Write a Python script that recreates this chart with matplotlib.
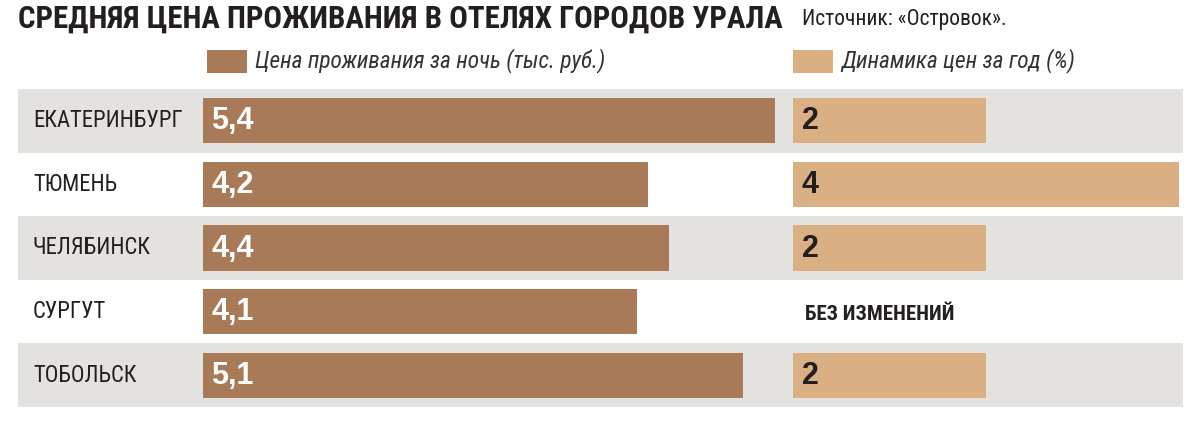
import matplotlib
matplotlib.use('Agg')
import matplotlib.pyplot as plt
from matplotlib import font_manager
from matplotlib.patches import Rectangle
import matplotlib.transforms as mtransforms

# ── данные ────────────────────────────────────────────────────────────────
TITLE = 'СРЕДНЯЯ ЦЕНА ПРОЖИВАНИЯ В ОТЕЛЯХ ГОРОДОВ УРАЛА'
SOURCE = 'Источник: «Островок».'
LEGEND_PRICE = 'Цена проживания за ночь (тыс. руб.)'
LEGEND_CHANGE = 'Динамика цен за год (%)'

cities = ['ЕКАТЕРИНБУРГ', 'ТЮМЕНЬ', 'ЧЕЛЯБИНСК', 'СУРГУТ', 'ТОБОЛЬСК']
price = [5.4, 4.2, 4.4, 4.1, 5.1]
price_labels = ['5,4', '4,2', '4,4', '4,1', '5,1']
change = [2, 4, 2, 0, 2]
change_labels = ['2', '4', '2', 'БЕЗ ИЗМЕНЕНИЙ', '2']

# ── стиль ─────────────────────────────────────────────────────────────────
C_PRICE = '#A97A57'
C_CHANGE = '#D9AF83'
C_BAND = '#E3E2DE'
C_TEXT = '#231F20'

installed = {f.name for f in font_manager.fontManager.ttflist}
FONT = next((f for f in ['Roboto Condensed', 'Liberation Sans Narrow', 'Liberation Sans']
             if f in installed), 'DejaVu Sans')
NUM_FONT = ['Liberation Sans', 'DejaVu Sans']
plt.rcParams['font.family'] = [FONT, 'DejaVu Sans']

W, H = 1200, 424
fig = plt.figure(figsize=(W / 100, H / 100), dpi=100)


def fx(px):
    return px / W


def fy(py):
    return 1 - py / H


n = len(cities)
top_px, bot_px = 89, 407
ax_b = fy(bot_px)
ax_h = (bot_px - top_px) / H

# фон: полосы через строку
bg = fig.add_axes([fx(18), ax_b, fx(1183 - 18), ax_h])
bg.set_xlim(0, 1)
bg.set_ylim(n - 0.5, -0.5)
for i in range(n):
    if i % 2 == 0:
        bg.axhspan(i - 0.5, i + 0.5, color=C_BAND, lw=0)
bg.axis('off')

# левые столбцы — цена
ax1 = fig.add_axes([fx(203), ax_b, fx(775 - 203), ax_h])
ax1.barh(range(n), price, height=0.71, color=C_PRICE)
ax1.set_xlim(0, max(price))
ax1.set_ylim(n - 0.5, -0.5)
ax1.axis('off')
for i, lab in enumerate(price_labels):
    ax1.text(0.08, i + 0.01, lab, ha='left', va='center', color='white',
             fontsize=22, fontweight='bold', family=NUM_FONT)

# правые столбцы — динамика
ax2 = fig.add_axes([fx(793), ax_b, fx(1179 - 793), ax_h])
ax2.barh(range(n), change, height=0.71, color=C_CHANGE)
ax2.set_xlim(0, max(change))
ax2.set_ylim(n - 0.5, -0.5)
ax2.axis('off')
for i, lab in enumerate(change_labels):
    if change[i] == 0:
        ax2.text(0.12, i + 0.05, lab, ha='left', va='center', color=C_TEXT,
                 fontsize=15, fontweight='bold')
    else:
        ax2.text(0.09, i + 0.01, lab, ha='left', va='center', color=C_TEXT,
                 fontsize=22, fontweight='bold', family=NUM_FONT)

# названия городов
trans = mtransforms.blended_transform_factory(fig.transFigure, bg.transData)
for i, city in enumerate(cities):
    fig.text(fx(33), i, city, transform=trans, ha='left', va='center',
             fontsize=16.4, color=C_TEXT)

# заголовок и источник
fig.text(fx(18), fy(19), TITLE, ha='left', va='center', fontsize=22.2,
         fontweight='bold', color=C_TEXT)
fig.text(fx(802), fy(19), SOURCE, ha='left', va='center', fontsize=15.5,
         color=C_TEXT)

# легенда
for x0, col, lab in [(207, C_PRICE, LEGEND_PRICE), (793, C_CHANGE, LEGEND_CHANGE)]:
    fig.patches.append(Rectangle((fx(x0), fy(73)), fx(40), (73 - 50) / H,
                                 transform=fig.transFigure, color=col, lw=0))
    fig.text(fx(x0 + 48), fy(61), lab, ha='left', va='center', fontsize=16.8,
             style='italic', color='#333333')

fig.savefig('out.png', dpi=100, facecolor='white')
